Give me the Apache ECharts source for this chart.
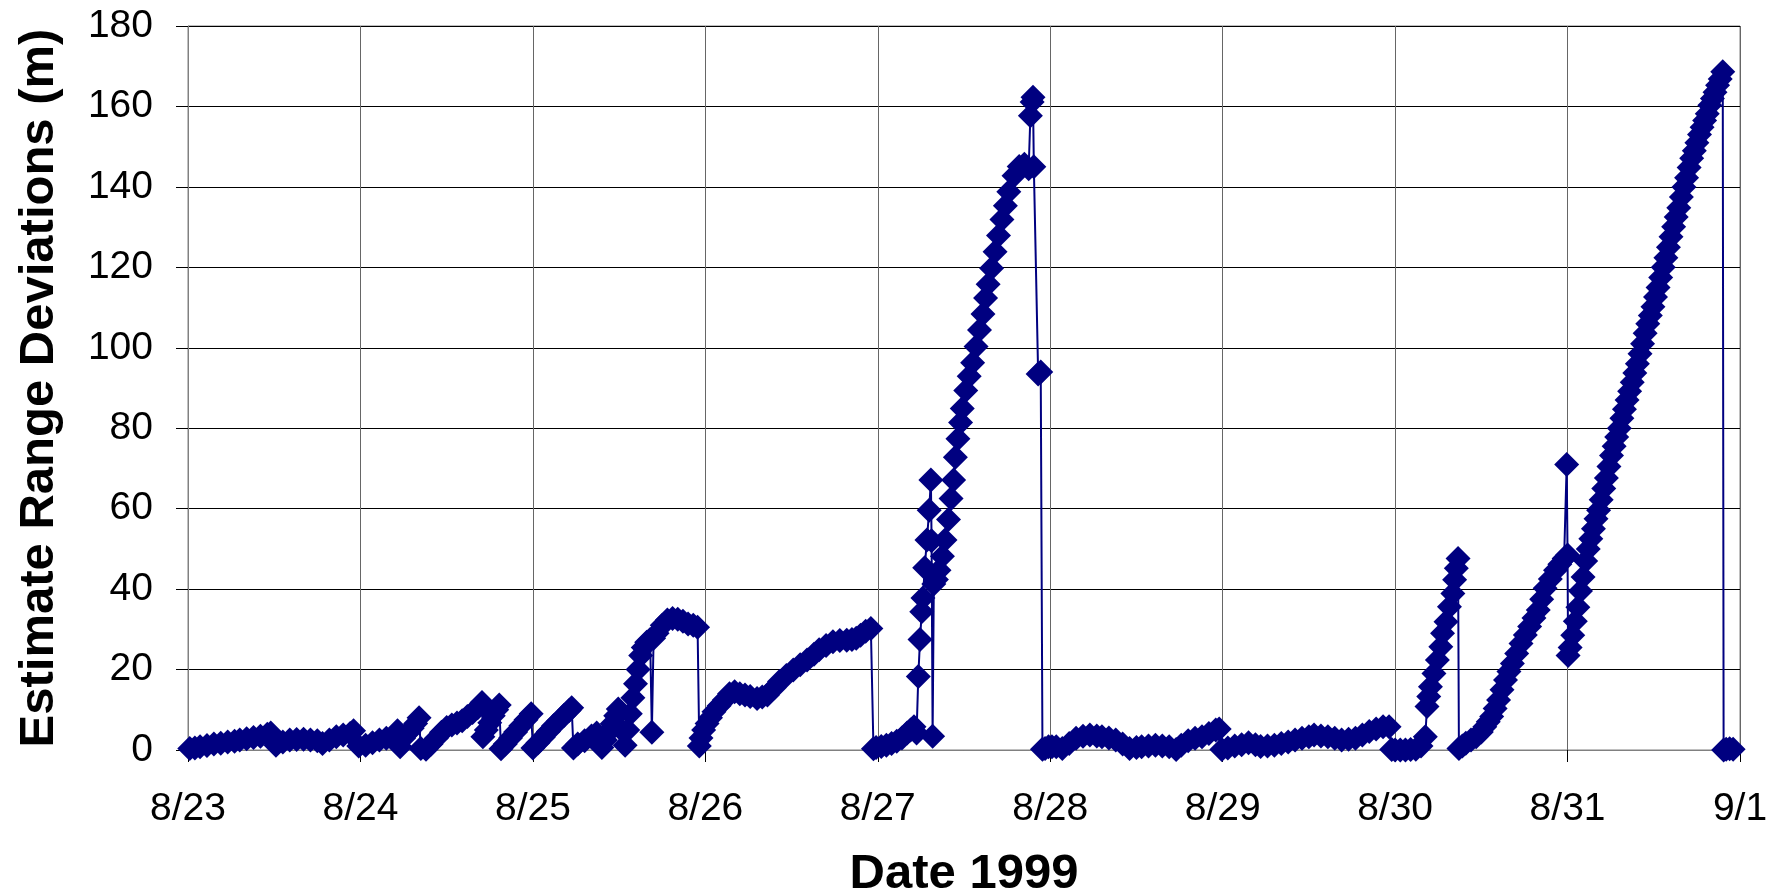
<!DOCTYPE html>
<html>
<head>
<meta charset="utf-8">
<style>
html,body{margin:0;padding:0;background:#fff;}
#chart{width:1776px;height:893px;}
</style>
<script src="https://cdn.jsdelivr.net/npm/echarts@6/dist/echarts.min.js"></script>
</head>
<body>
<div id="chart"></div>
<script>
// x tick labels (days since 8/23 00:00, 1999)
const tickLabels = ['8/23','8/24','8/25','8/26','8/27','8/28','8/29','8/30','8/31','9/1'];
const yTicks = [0,20,40,60,80,100,120,140,160,180];

// [time in days since 8/23 00:00, range deviation (m)]
const aug23 = [[-0.03,4],[0.01,0.4],[0.04,0.5],[0.07,0.8],[0.11,1.1],[0.15,1.5],[0.19,1.7],[0.23,2.0],[0.27,2.2],[0.30,2.5],[0.34,2.8],[0.38,3.1],[0.42,3.4],[0.46,3.9],[0.48,4.2],[0.51,1.2],[0.55,2.0],[0.59,2.5],[0.63,2.6],[0.67,2.7],[0.71,2.5],[0.75,2.3],[0.78,1.6],[0.82,2.5],[0.86,3.3],[0.90,3.7],[0.94,4.1],[0.96,4.8],[0.99,1.0]];
const aug24 = [[1.03,1.2],[1.07,1.8],[1.11,2.5],[1.15,2.9],[1.19,3.4],[1.215,4.8],[1.23,0.8],[1.25,2.9],[1.28,4.4],[1.30,5.4],[1.32,6.6],[1.34,8.0],[1.35,0.4],[1.38,0.2],[1.41,1.5],[1.44,2.9],[1.47,4.4],[1.50,5.6],[1.53,6.2],[1.56,6.7],[1.59,7.3],[1.62,8.3],[1.65,9.3],[1.68,10.5],[1.705,11.8],[1.71,3.3],[1.73,5.0],[1.75,6.8],[1.77,8.5],[1.79,10.0],[1.805,11.2],[1.815,0.3],[1.84,1.5],[1.87,3.0],[1.90,4.5],[1.93,6.0],[1.96,7.5],[1.99,9.0]];
const aug25 = [[2.0,0.5],[2.03,1.8],[2.06,3.2],[2.09,4.6],[2.12,6.0],[2.15,7.3],[2.18,8.6],[2.21,9.8],[2.225,10.5],[2.235,0.5],[2.26,1.5],[2.30,2.3],[2.34,3.5],[2.37,4.2],[2.40,0.6],[2.42,2.5],[2.44,4.5],[2.46,6.5],[2.48,8.5],[2.495,10.2],[2.515,5],[2.535,1.2],[2.55,5],[2.565,9],[2.58,13],[2.595,16.5],[2.61,20],[2.625,23.5],[2.64,25.5],[2.66,26.8],[2.68,27.5],[2.69,4.4],[2.70,27.8],[2.72,29],[2.75,31],[2.78,32.3],[2.81,32.7],[2.84,32.5],[2.87,32],[2.90,31.3],[2.93,31],[2.955,30.5],[2.965,1.0],[2.975,3],[2.99,5]];
const aug26 = [[3.01,6.6],[3.03,8],[3.05,9.5],[3.08,11],[3.11,12.4],[3.14,14],[3.17,14.5],[3.20,14],[3.23,13.7],[3.26,13.3],[3.30,12.8],[3.33,13.2],[3.36,13.7],[3.40,15.5],[3.43,17],[3.47,18.5],[3.51,19.9],[3.55,21.2],[3.59,22.4],[3.63,23.8],[3.66,24.9],[3.70,26],[3.74,26.9],[3.78,27.2],[3.82,27.3],[3.85,27.5],[3.875,27.8],[3.90,28.5],[3.93,29.5],[3.96,30.2],[3.975,0.3],[3.99,0.6]];
const aug27 = [[4.02,0.9],[4.05,1.2],[4.08,1.6],[4.11,2.2],[4.14,3.0],[4.17,4.2],[4.19,5.0],[4.21,5.8],[4.225,4.2],[4.235,18.3],[4.245,27.5],[4.255,34.4],[4.262,37.8],[4.272,45.3],[4.285,52.2],[4.298,59.6],[4.308,67.1],[4.312,52],[4.318,3.4],[4.325,41.3],[4.34,42.4],[4.355,44.7],[4.375,48.2],[4.39,52.2],[4.41,57.3],[4.425,62.5],[4.44,67.1],[4.45,72.8],[4.465,77.4],[4.48,81.4],[4.49,84.9],[4.51,89.4],[4.53,92.9],[4.55,96.3],[4.57,100.3],[4.59,104.4],[4.61,108.4],[4.625,112.4],[4.64,115.8],[4.66,119.8],[4.68,123.9],[4.70,127.9],[4.72,131.9],[4.74,135.3],[4.76,138.8],[4.79,142.8],[4.82,145.1],[4.85,145.6],[4.875,144.5],[4.885,157.7],[4.895,161.1],[4.90,162.3],[4.905,145],[4.93,93.5],[4.945,94],[4.955,0.2],[4.97,0.4],[4.99,0.8]];
const aug28 = [[5.01,0.8],[5.035,0.8],[5.07,0.4],[5.11,1.6],[5.15,2.9],[5.19,3.4],[5.23,3.7],[5.27,3.5],[5.30,3.3],[5.34,3.0],[5.38,2.5],[5.42,1.5],[5.46,0.4],[5.50,0.6],[5.53,0.8],[5.57,1.0],[5.61,1.2],[5.65,1.0],[5.69,0.8],[5.73,0.1],[5.76,1.2],[5.80,2.3],[5.84,2.9],[5.88,3.3],[5.92,4.1],[5.96,5.0],[5.98,5.2],[5.995,0.1]];
const aug29 = [[6.03,0.5],[6.07,1.0],[6.11,1.3],[6.15,1.8],[6.19,1.3],[6.22,0.9],[6.26,1.0],[6.30,1.2],[6.34,1.6],[6.38,2.0],[6.42,2.5],[6.46,2.9],[6.50,3.3],[6.53,3.7],[6.57,3.5],[6.61,3.3],[6.65,2.9],[6.69,2.5],[6.73,2.7],[6.77,2.9],[6.81,3.7],[6.85,4.6],[6.89,5.2],[6.93,5.8],[6.965,5.8],[6.98,0.1]];
const aug30 = [[7.0,0],[7.03,0],[7.06,0],[7.09,0.1],[7.12,0.2],[7.15,1.0],[7.175,3.3],[7.185,10.8],[7.195,13.3],[7.205,15.7],[7.225,19],[7.245,22.4],[7.265,25.7],[7.275,29],[7.295,31.9],[7.315,35.6],[7.335,38.9],[7.345,42.3],[7.355,45.2],[7.365,47.6],[7.37,0.4],[7.39,1.0],[7.41,1.7],[7.44,2.5],[7.47,3.3],[7.50,4.5],[7.52,5.8],[7.54,7],[7.56,8.3],[7.58,10.3],[7.60,12.4],[7.62,15],[7.64,17.4],[7.66,19.5],[7.68,21.5],[7.705,24],[7.73,26.5],[7.755,28.6],[7.78,30.7],[7.805,32.8],[7.83,34.8],[7.85,37.5],[7.87,40.2],[7.90,42.5],[7.93,44.7],[7.955,46.2],[7.98,47.6],[7.995,71],[8.0,48.5]];
const aug31 = [[8.003,23.5],[8.015,25.5],[8.03,28.5],[8.045,32],[8.06,35.5],[8.075,39.5],[8.09,43],[8.105,47],[8.12,50],[8.135,52.5],[8.15,55],[8.165,57.5],[8.18,59.6],[8.195,62.2],[8.21,65],[8.225,67.6],[8.24,70.5],[8.255,73.2],[8.27,75.5],[8.285,77.8],[8.30,80],[8.315,82.5],[8.33,84.7],[8.345,87],[8.36,89.2],[8.375,91.4],[8.39,93.7],[8.405,96],[8.42,98.5],[8.435,101],[8.45,103.6],[8.465,106],[8.48,108],[8.495,110.2],[8.51,112.6],[8.525,115],[8.54,117.5],[8.555,120],[8.57,122.4],[8.585,125],[8.60,127.6],[8.615,130.1],[8.63,132.5],[8.645,134.8],[8.66,137.5],[8.675,140],[8.69,142.3],[8.705,144.8],[8.72,147.1],[8.735,149],[8.75,151],[8.765,153],[8.78,154.8],[8.795,156.5],[8.81,158.2],[8.825,160.3],[8.84,162],[8.855,163.5],[8.87,165.3],[8.885,166.8],[8.90,168.6],[8.905,0],[8.92,0.2],[8.94,0.3],[8.96,0.2]];

const seriesData = [].concat(aug23, aug24, aug25, aug26, aug27, aug28, aug29, aug30, aug31);

const FONT = '"Liberation Sans", Arial, Helvetica, sans-serif';
const NAVY = '#000080';

const chart = echarts.init(document.getElementById('chart'), null, {renderer: 'canvas'});
chart.setOption({
  animation: false,
  backgroundColor: '#ffffff',
  grid: {left: 188, right: 36, top: 26, bottom: 143, containLabel: false, outerBoundsMode: 'none', show: true, borderColor: '#808080', borderWidth: 1, backgroundColor: 'transparent'},
  xAxis: {
    type: 'value', min: 0, max: 9, interval: 1,
    name: 'Date 1999', nameLocation: 'middle', nameGap: 100,
    nameTextStyle: {fontFamily: FONT, fontSize: 49, fontWeight: 'bold', color: '#000'},
    axisLine: {show: true, onZero: false, lineStyle: {color: '#808080', width: 1}},
    axisTick: {show: true, inside: false, length: 12, lineStyle: {color: '#000', width: 1}},
    axisLabel: {margin: 40, fontFamily: FONT, fontSize: 39, color: '#000', formatter: v => tickLabels[Math.round(v)] || ''},
    splitLine: {show: true, lineStyle: {color: '#666', width: 1}}
  },
  yAxis: {
    type: 'value', min: 0, max: 180, interval: 20,
    name: 'Estimate Range Deviations (m)', nameLocation: 'middle', nameGap: 124,
    nameTextStyle: {fontFamily: FONT, fontSize: 49, fontWeight: 'bold', color: '#000'},
    axisLine: {show: true, lineStyle: {color: '#808080', width: 1}},
    axisTick: {show: true, inside: false, length: 12, lineStyle: {color: '#000', width: 1}},
    axisLabel: {margin: 35, fontFamily: FONT, fontSize: 39, color: '#000', formatter: v => (yTicks.indexOf(v) >= 0 ? String(v) : '')},
    splitLine: {show: true, lineStyle: {color: '#000', width: 1}}
  },
  series: [{
    type: 'line',
    data: seriesData,
    symbol: 'diamond',
    symbolSize: 25,
    showAllSymbol: true,
    clip: true,
    lineStyle: {color: NAVY, width: 2},
    itemStyle: {color: NAVY, borderWidth: 0},
    emphasis: {disabled: true}
  }]
});
</script>
</body>
</html>
